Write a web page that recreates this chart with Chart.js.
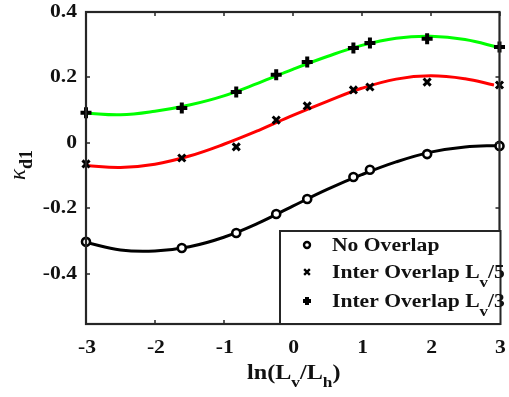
<!DOCTYPE html>
<html>
<head>
<meta charset="utf-8">
<script src="https://cdn.jsdelivr.net/npm/chart.js@4.4.0/dist/chart.umd.min.js"></script>
<style>
  html, body { margin: 0; padding: 0; background: #fff; }
  canvas { display: block; }
</style>
</head>
<body>
<canvas id="kappa" width="509" height="397"></canvas>
<script>
// measured points, x = ln(Lv/Lh)
const xPts = [-3, -1.61, -0.82, -0.24, 0.21, 0.88, 1.12, 1.95, 3];
const noOverlap = [-0.302, -0.321, -0.275, -0.217, -0.171, -0.104, -0.082, -0.034, -0.009];
const overlap5 = [-0.064, -0.046, -0.012, 0.070, 0.113, 0.162, 0.171, 0.186, 0.177];
const overlap3 = [0.092, 0.107, 0.156, 0.208, 0.247, 0.290, 0.305, 0.318, 0.293];

// fitted curves
const xFit = [-3, -2.5, -2, -1.5, -1, -0.5, 0, 0.5, 1, 1.5, 2, 2.5, 3];
const xFit5 = [-3, -2.5, -2, -1.5, -1, -0.5, 0, 0.5, 1, 1.5, 2, 2.5, 2.92];
const fitNoOverlap = [-0.304, -0.327, -0.330, -0.317, -0.288, -0.245, -0.193, -0.142, -0.097, -0.058, -0.028, -0.012, -0.008];
const fitOverlap5 = [-0.069, -0.075, -0.065, -0.040, -0.004, 0.038, 0.084, 0.127, 0.167, 0.195, 0.205, 0.196, 0.177];
const fitOverlap3 = [0.091, 0.086, 0.097, 0.116, 0.144, 0.183, 0.225, 0.264, 0.298, 0.320, 0.326, 0.316, 0.291];

const seriesNames = ['No Overlap', 'Inter Overlap L_v/5', 'Inter Overlap L_v/3'];
const xTicks = [-3, -2, -1, 0, 1, 2, 3];
const yTicks = [-0.4, -0.2, 0, 0.2, 0.4];
const xTitle = 'ln(L_v/L_h)';
const yTitle = 'κ_{d1}';

const SERIF = '"Liberation Serif", "Times New Roman", serif';
const AXIS = '#262626';
const STRETCH = 1.2;

const pts = (xs, ys) => xs.map((x, i) => ({ x: x, y: ys[i] }));

// split "L_v" / "_{d1}" into normal and subscript runs
function runs(str) {
  const out = [];
  const re = /_\{([^}]*)\}|_(.)/g;
  let last = 0, m;
  while ((m = re.exec(str))) {
    if (m.index > last) out.push({ t: str.slice(last, m.index), sub: false });
    out.push({ t: m[1] || m[2], sub: true });
    last = re.lastIndex;
  }
  if (last < str.length) out.push({ t: str.slice(last), sub: false });
  return out;
}

function runsWidth(ctx, parts, font, subFont, sx) {
  let w = 0;
  parts.forEach(p => { ctx.font = p.sub ? subFont : font; w += ctx.measureText(p.t).width * sx; });
  return w;
}

// draws rich text left-aligned at (0,0) of the current transform
function drawRuns(ctx, parts, font, subFont, sx, subDy) {
  let x = 0;
  parts.forEach(p => {
    ctx.font = p.sub ? subFont : font;
    ctx.save();
    ctx.translate(x, p.sub ? subDy : 0);
    ctx.scale(sx, 1);
    ctx.fillText(p.t, 0, 0);
    ctx.restore();
    x += ctx.measureText(p.t).width * sx;
  });
}

function marker(ctx, style, x, y, r, lw) {
  ctx.save();
  ctx.strokeStyle = '#000';
  ctx.fillStyle = '#fff';
  ctx.lineWidth = lw;
  ctx.beginPath();
  if (style === 'circle') {
    ctx.arc(x, y, r, 0, Math.PI * 2);
    ctx.fill();
  } else if (style === 'crossRot') {
    const d = r * 0.75;
    ctx.moveTo(x - d, y - d); ctx.lineTo(x + d, y + d);
    ctx.moveTo(x + d, y - d); ctx.lineTo(x - d, y + d);
  } else {
    ctx.moveTo(x - r, y); ctx.lineTo(x + r, y);
    ctx.moveTo(x, y - r); ctx.lineTo(x, y + r);
  }
  ctx.stroke();
  ctx.restore();
}

const frame = {
  id: 'frame',
  afterDatasetsDraw(chart) {
    const ctx = chart.ctx;
    const a = chart.chartArea;
    const xs = chart.scales.x, ys = chart.scales.y;
    ctx.save();
    ctx.strokeStyle = AXIS;
    ctx.fillStyle = '#111';

    // box and inward ticks
    ctx.lineWidth = 2.2;
    ctx.strokeRect(a.left, a.top, a.right - a.left, a.bottom - a.top);
    ctx.lineWidth = 1.5;
    ctx.beginPath();
    xTicks.forEach(v => {
      const px = Math.round(xs.getPixelForValue(v));
      ctx.moveTo(px, a.bottom); ctx.lineTo(px, a.bottom - 4);
      ctx.moveTo(px, a.top); ctx.lineTo(px, a.top + 4);
    });
    yTicks.forEach(v => {
      const py = Math.round(ys.getPixelForValue(v));
      ctx.moveTo(a.left, py); ctx.lineTo(a.left + 4, py);
      ctx.moveTo(a.right, py); ctx.lineTo(a.right - 4, py);
    });
    ctx.stroke();

    // tick labels
    const tickFont = 'bold 18px ' + SERIF;
    ctx.font = tickFont;
    ctx.textBaseline = 'middle';
    yTicks.forEach(v => {
      ctx.save();
      ctx.translate(a.left - 9, ys.getPixelForValue(v));
      ctx.scale(STRETCH, 1);
      ctx.textAlign = 'right';
      ctx.fillText(String(v), 0, 0);
      ctx.restore();
    });
    ctx.textBaseline = 'alphabetic';
    xTicks.forEach(v => {
      ctx.save();
      ctx.translate(xs.getPixelForValue(v) + 1, a.bottom + 29);
      ctx.scale(STRETCH, 1);
      ctx.textAlign = 'center';
      ctx.fillText(String(v), 0, 0);
      ctx.restore();
    });

    // x title
    ctx.textAlign = 'left';
    const tFont = 'bold 21px ' + SERIF, tSub = 'bold 15px ' + SERIF;
    const xr = runs(xTitle);
    const xw = runsWidth(ctx, xr, tFont, tSub, 1.15);
    ctx.save();
    ctx.translate((a.left + a.right) / 2 - xw / 2 + 1, a.bottom + 55);
    drawRuns(ctx, xr, tFont, tSub, 1.15, 8);
    ctx.restore();

    // y title, rotated
    const yr = runs(yTitle);
    ctx.save();
    ctx.translate(25, 180);
    ctx.rotate(-Math.PI / 2);
    drawRuns(ctx, yr, 'italic 23px ' + SERIF, 'bold 18px ' + SERIF, 1.0, 7);
    ctx.restore();

    // legend
    const lx = 280, ly = 231, lw = a.right + 1 - lx, lh = a.bottom - ly;
    ctx.fillStyle = '#fff';
    ctx.fillRect(lx, ly, lw, lh);
    ctx.lineWidth = 2;
    ctx.strokeRect(lx, ly, lw, lh);
    const styles = ['circle', 'crossRot', 'cross'];
    const mSize = [[3, 2.4], [3.8, 2.4], [4, 4]];
    const rowY = [251, 278, 307];
    ctx.fillStyle = '#111';
    seriesNames.forEach((name, i) => {
      marker(ctx, styles[i], 307, rowY[i] - 6, mSize[i][0], mSize[i][1]);
      ctx.save();
      ctx.translate(332, rowY[i]);
      drawRuns(ctx, runs(name), 'bold 18px ' + SERIF, 'bold 14px ' + SERIF, STRETCH, 9);
      ctx.restore();
    });
    ctx.restore();
  }
};

const fitLine = (xs, ys, color) => ({
  data: pts(xs, ys),
  showLine: true,
  borderColor: color,
  borderWidth: 3,
  pointRadius: 0,
  tension: 0.4,
  order: 2
});

const markers = (ys, style, r, w) => ({
  data: pts(xPts, ys),
  showLine: false,
  pointStyle: style,
  pointRadius: r,
  borderWidth: w,
  borderColor: '#000',
  backgroundColor: '#fff',
  pointBorderColor: '#000',
  pointBackgroundColor: '#fff',
  clip: false,
  order: 1
});

new Chart(document.getElementById('kappa'), {
  type: 'scatter',
  data: {
    datasets: [
      fitLine(xFit, fitNoOverlap, '#000000'),
      fitLine(xFit5, fitOverlap5, '#ff0000'),
      fitLine(xFit, fitOverlap3, '#00ff00'),
      markers(noOverlap, 'circle', 4, 2.6),
      markers(overlap5, 'crossRot', 5, 3),
      markers(overlap3, 'cross', 5.5, 4)
    ]
  },
  options: {
    responsive: false,
    devicePixelRatio: 1,
    animation: false,
    layout: { padding: { left: 0, top: 12, right: 8, bottom: 0 } },
    plugins: { legend: { display: false }, tooltip: { enabled: false } },
    scales: {
      x: {
        type: 'linear', min: -3, max: 3,
        ticks: { display: false, stepSize: 1 },
        grid: { display: false }, border: { display: false },
        afterFit: s => { s.height = 73; }
      },
      y: {
        type: 'linear', min: -0.553, max: 0.4,
        ticks: { display: false, stepSize: 0.2 },
        grid: { display: false }, border: { display: false },
        afterFit: s => { s.width = 86; }
      }
    }
  },
  plugins: [frame]
});
</script>
</body>
</html>
